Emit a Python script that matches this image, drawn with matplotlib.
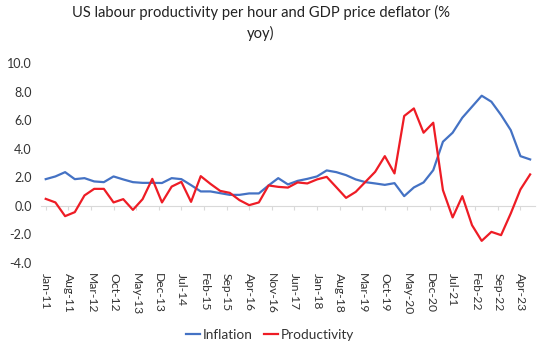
import matplotlib
matplotlib.use("Agg")
import matplotlib.pyplot as plt
import matplotlib.transforms as mtransforms
import numpy as np

plt.rcParams['font.family'] = ['Lato', 'DejaVu Sans']

# Quarterly data Q1 2011 .. Q3 2023 (months since Jan-2011)
months = list(range(0, 151, 3))
inflation = [1.87, 2.06, 2.36, 1.87, 1.94, 1.71, 1.66, 2.06, 1.85, 1.66,
             1.61, 1.61, 1.60, 1.94, 1.87, 1.45, 1.01, 1.01, 0.89, 0.77,
             0.77, 0.87, 0.87, 1.43, 1.94, 1.50, 1.75, 1.89, 2.06, 2.48,
             2.36, 2.15, 1.85, 1.66, 1.57, 1.47, 1.59, 0.68, 1.29, 1.64,
             2.50, 4.49, 5.12, 6.17, 6.94, 7.71, 7.29, 6.36, 5.30, 3.48,
             3.25]
productivity = [0.49, 0.24, -0.72, -0.44, 0.73, 1.19, 1.19, 0.24, 0.47, -0.28,
                0.47, 1.89, 0.24, 1.35, 1.68, 0.28, 2.08, 1.54, 1.05, 0.91,
                0.40, 0.05, 0.24, 1.43, 1.33, 1.28, 1.64, 1.57, 1.85, 2.03,
                1.30, 0.56, 0.98, 1.68, 2.38, 3.48, 2.27, 6.29, 6.82, 5.12,
                5.82, 1.10, -0.81, 0.68, -1.35, -2.45, -1.82, -2.05, -0.53, 1.15,
                2.20]
tick_months = list(range(0, 148, 7))
tick_labels = ['Jan-11', 'Aug-11', 'Mar-12', 'Oct-12', 'May-13', 'Dec-13', 'Jul-14',
               'Feb-15', 'Sep-15', 'Apr-16', 'Nov-16', 'Jun-17', 'Jan-18', 'Aug-18',
               'Mar-19', 'Oct-19', 'May-20', 'Dec-20', 'Jul-21', 'Feb-22', 'Sep-22',
               'Apr-23']
y_ticks = [-4, -2, 0, 2, 4, 6, 8, 10]
y_min, y_max = -4, 10

fig = plt.figure(figsize=(5.4, 3.51), dpi=100)
ax = fig.add_axes([0.0757, 0.2507, 0.9907 - 0.0757, 0.8205 - 0.2507])

ax.plot(months, inflation, color='#4472C4', lw=1.6, label='Inflation', solid_joinstyle='round')
ax.plot(months, productivity, color='#EE1C25', lw=1.6, label='Productivity', solid_joinstyle='round')

ax.set_xlim(-1.5, 151.5)
ax.set_ylim(y_min, y_max)
ax.set_yticks(y_ticks)
ax.set_yticklabels([f'{v:.1f}' for v in y_ticks])

for s in ['top', 'right', 'left', 'bottom']:
    ax.spines[s].set_visible(False)

ax.set_xticks(tick_months)
ax.tick_params(axis='x', length=0, labelbottom=False)
ax.tick_params(axis='y', length=0, pad=6.5, labelsize=9, labelcolor='#333333')

# category labels at the bottom, reading top-to-bottom
trans = mtransforms.blended_transform_factory(ax.transData, ax.transAxes) + \
    mtransforms.ScaledTranslation(0, -10 / 100, fig.dpi_scale_trans)
for m, lab in zip(tick_months, tick_labels):
    ax.text(m, 0, lab, transform=trans, rotation=270, rotation_mode='default',
            ha='center', va='top', fontsize=8.7, color='#333333', clip_on=False)

# horizontal axis line at zero with small tick marks
zero_frac = (0 - y_min) / (y_max - y_min)
sec = ax.secondary_xaxis(zero_frac)
sec.set_xticks(tick_months)
sec.set_xticklabels([])
sec.tick_params(direction='out', length=3, color='#D9D9D9', width=0.8)
sec.spines['bottom'].set_color('#D9D9D9')
sec.spines['bottom'].set_linewidth(0.8)

fig.text(0.483, 0.985, 'US labour productivity per hour and GDP price deflator (%\nyoy)',
         ha='center', va='top', fontsize=10.6, color='#222222', linespacing=1.45)

fig.legend(loc='center', bbox_to_anchor=(0.5, 0.046), ncol=2, frameon=False,
           fontsize=9.8, handlelength=1.0, handletextpad=0.2, columnspacing=0.9,
           labelcolor='#333333')

fig.savefig('out.png', dpi=100)
